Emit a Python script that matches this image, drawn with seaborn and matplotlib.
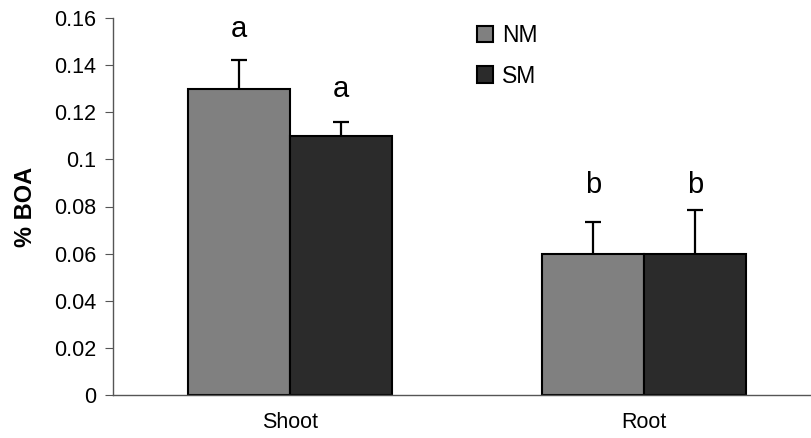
import pandas as pd
import matplotlib
matplotlib.use("Agg")
import matplotlib.pyplot as plt
import seaborn as sns
from matplotlib.patches import Patch

# data
tissues = ['Shoot', 'Root']
treatments = ['NM', 'SM']
nm_values = [0.130, 0.060]
sm_values = [0.110, 0.060]
nm_errors = [0.012, 0.0135]
sm_errors = [0.006, 0.0185]
nm_letters = ['a', 'b']
sm_letters = ['a', 'b']

df = pd.DataFrame({
    'tissue': tissues * 2,
    'treatment': ['NM'] * 2 + ['SM'] * 2,
    'boa': nm_values + sm_values,
})

sns.set_style('white')
plt.rcParams['font.family'] = ['Liberation Sans', 'DejaVu Sans']
plt.rcParams['text.color'] = 'black'
plt.rcParams['xtick.color'] = '#555555'
plt.rcParams['ytick.color'] = '#555555'
plt.rcParams['xtick.labelcolor'] = 'black'
plt.rcParams['ytick.labelcolor'] = 'black'
plt.rcParams['axes.labelcolor'] = 'black'

fig = plt.figure(figsize=(8.12, 4.38), dpi=100)
ax = fig.add_axes([113 / 812, 43 / 438, 708 / 812, 377 / 438])

colors = {'NM': '#808080', 'SM': '#2b2b2b'}
sns.barplot(data=df, x='tissue', y='boa', hue='treatment', order=tissues,
            hue_order=treatments, palette=colors, width=0.575, gap=0,
            edgecolor='black', linewidth=1.5, errorbar=None, legend=False, ax=ax)

errs = {'NM': nm_errors, 'SM': sm_errors}
letters = {'NM': nm_letters, 'SM': sm_letters}
letter_pad = {'NM': [0.0100, 0.0122], 'SM': [0.0105, 0.0072]}
for cont, trt in zip(ax.containers, treatments):
    for i, bar in enumerate(cont):
        xc = bar.get_x() + bar.get_width() / 2
        top = bar.get_height()
        eb = ax.errorbar([xc], [top], yerr=[[0], [errs[trt][i]]], fmt='none',
                         ecolor='black', elinewidth=1.6, capsize=5.8, capthick=1.6)
        eb[1][0].set_visible(False)  # no cap at the bar top
        ax.text(xc, top + errs[trt][i] + letter_pad[trt][i], letters[trt][i],
                ha='center', va='baseline', fontsize=21)

ax.set_xlim(-0.5, 1.5)
ax.set_ylim(0, 0.16)
ax.set_yticks([0, 0.02, 0.04, 0.06, 0.08, 0.1, 0.12, 0.14, 0.16])
ax.set_yticklabels(['0', '0.02', '0.04', '0.06', '0.08', '0.1', '0.12', '0.14', '0.16'],
                   fontsize=15.5)
ax.set_xticks([0, 1])
ax.set_xticklabels(tissues, fontsize=15.5)
ax.set_xticks([-0.5, 0.5, 1.5], minor=True)
ax.tick_params(axis='x', which='major', length=0, pad=12)
ax.tick_params(axis='x', which='minor', length=6, direction='out')
ax.tick_params(axis='y', length=6, direction='out', left=True, pad=6)
ax.set_xlabel('')
ax.set_ylabel('% BOA', fontsize=17, fontweight='bold', labelpad=12)

for s in ['top', 'right']:
    ax.spines[s].set_visible(False)
for s in ['left', 'bottom']:
    ax.spines[s].set_color('#555555')
    ax.spines[s].set_linewidth(1)

handles = [Patch(facecolor=colors[t], edgecolor='black', linewidth=1.5) for t in treatments]
ax.legend(handles, treatments, loc='upper left', bbox_to_anchor=(0.514, 0.985),
          frameon=False, fontsize=16.5, handlelength=0.7, handleheight=0.7,
          handletextpad=0.4, labelspacing=0.78, borderpad=0, borderaxespad=0)

fig.savefig('out.png', dpi=100)
